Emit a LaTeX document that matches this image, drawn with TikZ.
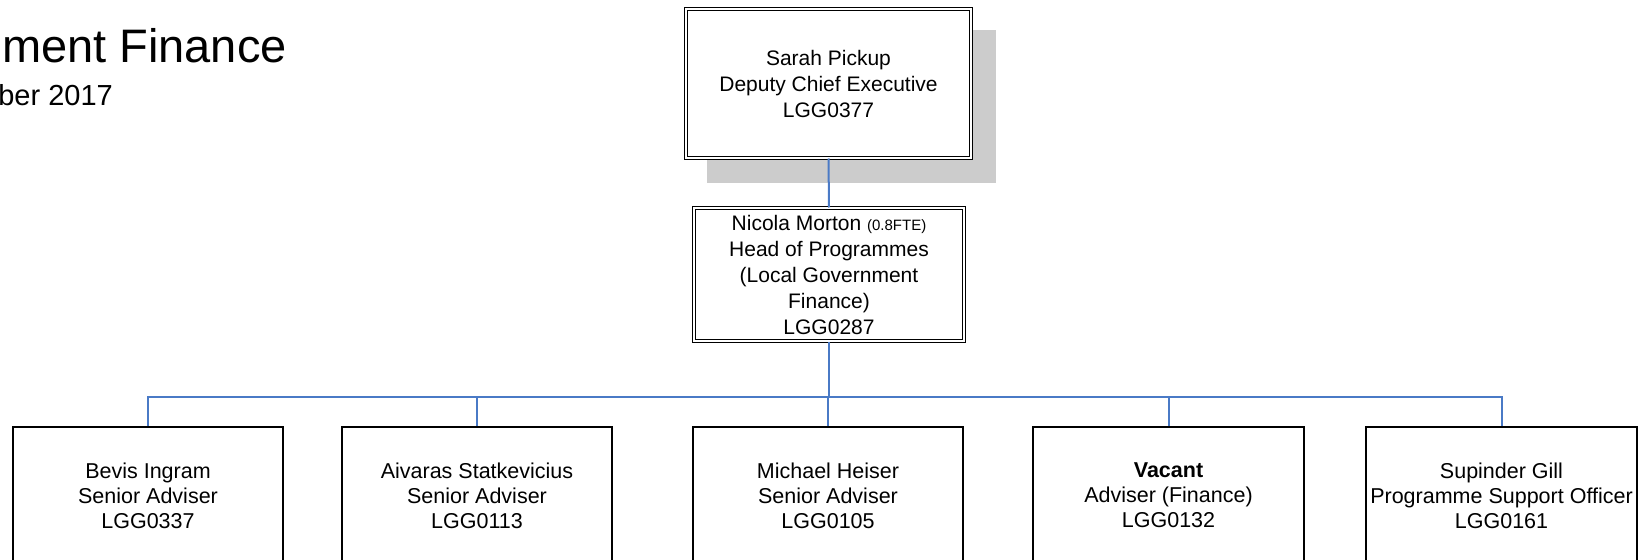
\documentclass[tikz,border=0pt]{standalone}
\usepackage{fontspec}
\setmainfont{Liberation Sans}
\definecolor{connblue}{RGB}{74,122,198}
\definecolor{shadowgray}{RGB}{204,204,204}
\tikzset{
  boxfont/.style={font=\fontsize{21.5bp}{25bp}\selectfont},
  orgbox/.style={draw=black, line width=1.8bp, fill=white, inner sep=0pt,
    align=center, minimum width=270bp, minimum height=137bp, boxfont},
  dblbox/.style={draw=black, double=white, double distance=1.6bp, line width=1.4bp,
    fill=white, inner sep=0pt, align=center, font=\fontsize{21bp}{26bp}\selectfont},
  conn/.style={draw=connblue, line width=2bp},
}
\begin{document}
\begin{tikzpicture}[x=1bp,y=-1bp]
\useasboundingbox (0,0) rectangle (1648,560);
\clip (0,0) rectangle (1648,560);
% title
\node[anchor=base east, inner sep=0pt, font=\fontsize{47bp}{50bp}\selectfont] (title) at (287,63) {ment Finance};
\node[anchor=base east, inner sep=0pt, font=\fontsize{29bp}{32bp}\selectfont] (subtitle) at (113,106) {ber 2017};
% shadow of top box
\fill[shadowgray] (707,30) rectangle (996,183);
% top box
\node[dblbox, minimum width=284.6bp, minimum height=148.6bp] (top) at (828.5,83.5)
  {Sarah Pickup\\Deputy Chief Executive\\LGG0377};
% second box
\node[dblbox, minimum width=269.6bp, minimum height=132.6bp] (nic) at (829,274.5)
  {Nicola Morton {\fontsize{15bp}{26bp}\selectfont(0.8FTE)}\\Head of Programmes\\(Local Government\\Finance)\\LGG0287};
% bottom boxes
\node[orgbox] (b1) at (148,495.5) {Bevis Ingram\\Senior Adviser\\LGG0337};
\node[orgbox] (b2) at (477,495.5) {Aivaras Statkevicius\\Senior Adviser\\LGG0113};
\node[orgbox] (b3) at (828,495.5) {Michael Heiser\\Senior Adviser\\LGG0105};
\node[orgbox, minimum width=271bp] (b4) at (1168.5,495.5) {\textbf{Vacant}\\Adviser (Finance)\\LGG0132};
\node[orgbox, minimum width=271bp] (b5) at (1501.5,495.5) {Supinder Gill\\Programme Support Officer\\LGG0161};
% connectors
\coordinate (busy) at (0,397);
\draw[conn] (top.south) -- (nic.north);
\draw[conn] (nic.south) -- (nic.south |- busy);
\draw[conn] (b1.north) -- (b1.north |- busy) -- (b5.north |- busy) -- (b5.north);
\foreach \n in {b2,b3,b4} \draw[conn] (\n.north) -- (\n.north |- busy);
\end{tikzpicture}
\end{document}
